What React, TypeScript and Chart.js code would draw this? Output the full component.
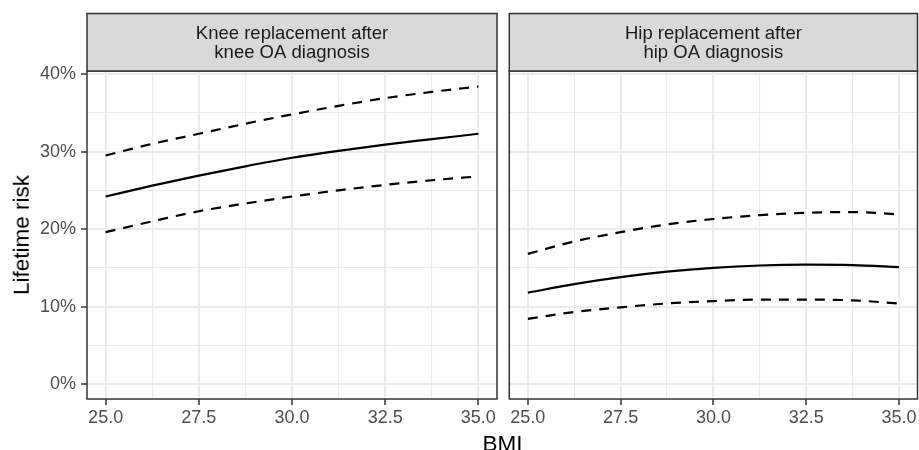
import React, { useEffect, useRef } from "react";
import { Chart, registerables } from "chart.js";

Chart.register(...registerables);

// BMI grid
const bmi = [25, 26.25, 27.5, 28.75, 30, 31.25, 32.5, 33.75, 35];

// Knee replacement after knee OA diagnosis (lifetime risk, %)
const kneeEstimate = [24.2, 25.6, 26.9, 28.1, 29.2, 30.1, 30.9, 31.6, 32.3];
const kneeUpper = [29.5, 31.0, 32.3, 33.6, 34.8, 35.9, 36.9, 37.7, 38.4];
const kneeLower = [19.6, 21.0, 22.3, 23.3, 24.2, 25.0, 25.7, 26.3, 26.8];

// Hip replacement after hip OA diagnosis (lifetime risk, %)
const hipEstimate = [11.8, 12.9, 13.8, 14.5, 15.0, 15.3, 15.4, 15.35, 15.1];
const hipUpper = [16.8, 18.4, 19.6, 20.6, 21.3, 21.8, 22.1, 22.2, 21.9];
const hipLower = [8.4, 9.3, 9.9, 10.4, 10.7, 10.9, 10.9, 10.8, 10.4];

// Ticks
const xMajorTicks = [25, 27.5, 30, 32.5, 35];
const xMinorTicks = [26.25, 28.75, 31.25, 33.75];
const yMajorTicks = [0, 10, 20, 30, 40];
const yMinorTicks = [5, 15, 25, 35];

const kneeTitle = ["Knee replacement after", "knee OA diagnosis"];
const hipTitle = ["Hip replacement after", "hip OA diagnosis"];
const yTitle = "Lifetime risk";
const xTitle = "BMI";

const FONT = '"Liberation Sans", Arial, Helvetica, sans-serif';

const isIn = (arr: number[], v: number) => arr.some((t) => Math.abs(t - v) < 1e-6);

type PanelProps = {
  left: number;
  width: number;
  areaLeft: number;
  areaRight: number;
  showY: boolean;
  title: string[];
  estimate: number[];
  upper: number[];
  lower: number[];
};

function Panel(props: PanelProps) {
  const ref = useRef<HTMLCanvasElement | null>(null);
  useEffect(() => {
    const canvas = ref.current;
    if (!canvas) return;
    const { width, areaLeft, areaRight, showY, title, estimate, upper, lower } = props;
    const pts = (arr: number[]) => arr.map((y, i) => ({ x: bmi[i], y }));
    const allX = [...xMajorTicks, ...xMinorTicks].sort((a, b) => a - b);
    const allY = [...yMajorTicks, ...yMinorTicks].sort((a, b) => a - b);

    const stripPlugin = {
      id: "strip",
      afterDraw(chart: any) {
        const { ctx, chartArea: a } = chart;
        ctx.save();
        ctx.lineWidth = 1.5;
        ctx.strokeStyle = "#333333";
        ctx.strokeRect(a.left, a.top, a.right - a.left, a.bottom - a.top);
        const stripTop = 13.5;
        ctx.fillStyle = "#D9D9D9";
        ctx.fillRect(a.left, stripTop, a.right - a.left, a.top - stripTop);
        ctx.strokeRect(a.left, stripTop, a.right - a.left, a.top - stripTop);
        ctx.fillStyle = "#1A1A1A";
        ctx.font = `18.5px ${FONT}`;
        ctx.textAlign = "center";
        ctx.textBaseline = "alphabetic";
        const cx = (a.left + a.right) / 2;
        title.forEach((line, i) => ctx.fillText(line, cx, 38.5 + i * 19));
        ctx.restore();
      },
    };

    const dashed = {
      borderColor: "#000000",
      borderWidth: 2.2,
      borderDash: [10, 8],
      pointRadius: 0,
      fill: false,
      cubicInterpolationMode: "monotone" as const,
    };

    const chart = new Chart(canvas, {
      type: "line",
      data: {
        datasets: [
          { ...dashed, data: pts(upper) },
          {
            data: pts(estimate),
            borderColor: "#000000",
            borderWidth: 2.2,
            pointRadius: 0,
            fill: false,
            cubicInterpolationMode: "monotone",
          },
          { ...dashed, data: pts(lower) },
        ],
      },
      options: {
        responsive: false,
        animation: false,
        devicePixelRatio: 1,
        events: [],
        layout: {
          padding: {
            left: showY ? 0 : areaLeft,
            right: width - areaRight,
            top: 71,
            bottom: 21,
          },
        },
        plugins: {
          legend: { display: false },
          tooltip: { enabled: false },
        },
        scales: {
          x: {
            type: "linear",
            min: 24.5,
            max: 35.5,
            afterBuildTicks: (s: any) => {
              s.ticks = allX.map((v) => ({ value: v }));
            },
            afterFit: (s: any) => {
              s.height = 30;
            },
            border: { display: false },
            ticks: {
              autoSkip: false,
              maxRotation: 0,
              padding: 2.5,
              color: "#4D4D4D",
              font: { family: FONT, size: 18 },
              callback: (v: any) => (isIn(xMajorTicks, Number(v)) ? Number(v).toFixed(1) : ""),
            },
            grid: {
              color: "#EBEBEB",
              lineWidth: (c: any) => (c.tick && isIn(xMajorTicks, c.tick.value) ? 2 : 1.1),
              tickColor: (c: any) =>
                c.tick && isIn(xMajorTicks, c.tick.value) ? "#333333" : "rgba(0,0,0,0)",
              tickLength: 6,
              tickWidth: 1.5,
            },
          },
          y: {
            type: "linear",
            min: -1.93,
            max: 40.4,
            afterBuildTicks: (s: any) => {
              s.ticks = allY.map((v) => ({ value: v }));
            },
            afterFit: (s: any) => {
              s.width = showY ? areaLeft : 0;
            },
            border: { display: false },
            ticks: {
              display: showY,
              autoSkip: false,
              padding: 5,
              color: "#4D4D4D",
              font: { family: FONT, size: 18 },
              callback: (v: any) => (isIn(yMajorTicks, Number(v)) ? `${v}%` : ""),
            },
            grid: {
              color: "#EBEBEB",
              drawTicks: showY,
              lineWidth: (c: any) => (c.tick && isIn(yMajorTicks, c.tick.value) ? 2 : 1.1),
              tickColor: (c: any) =>
                c.tick && isIn(yMajorTicks, c.tick.value) ? "#333333" : "rgba(0,0,0,0)",
              tickLength: 6,
              tickWidth: 1.5,
            },
          },
        },
      } as any,
      plugins: [stripPlugin],
    });
    return () => chart.destroy();
  }, []);

  return (
    <canvas
      ref={ref}
      width={props.width}
      height={450}
      style={{ position: "absolute", left: props.left, top: 0, width: props.width, height: 450 }}
    />
  );
}

export default function App() {
  return (
    <div
      style={{
        position: "absolute",
        left: 0,
        top: 0,
        width: 919,
        height: 450,
        overflow: "hidden",
        background: "#FFFFFF",
        fontFamily: FONT,
      }}
    >
      <Panel
        left={0}
        width={500}
        areaLeft={87}
        areaRight={497}
        showY={true}
        title={kneeTitle}
        estimate={kneeEstimate}
        upper={kneeUpper}
        lower={kneeLower}
      />
      <Panel
        left={500}
        width={419}
        areaLeft={9.3}
        areaRight={418}
        showY={false}
        title={hipTitle}
        estimate={hipEstimate}
        upper={hipUpper}
        lower={hipLower}
      />
      <div
        style={{
          position: "absolute",
          left: 22,
          top: 235,
          transform: "translate(-50%, -50%) rotate(-90deg)",
          whiteSpace: "nowrap",
          fontSize: 22.5,
          lineHeight: "22.5px",
          color: "#000000",
        }}
      >
        {yTitle}
      </div>
      <div
        style={{
          position: "absolute",
          left: 502.5,
          top: 432.5,
          transform: "translateX(-50%)",
          whiteSpace: "nowrap",
          fontSize: 22.5,
          lineHeight: "22.5px",
          color: "#000000",
        }}
      >
        {xTitle}
      </div>
    </div>
  );
}
